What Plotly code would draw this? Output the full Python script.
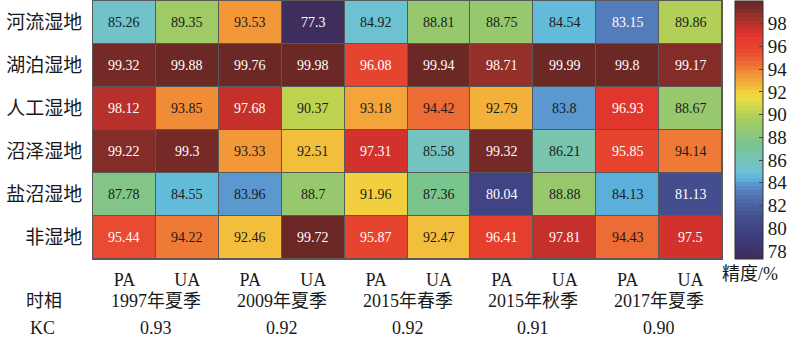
import numpy as np
import plotly.graph_objects as go

# Land cover classes (rows) and accuracy columns (PA / UA per period)
classes = ["河流湿地", "湖泊湿地", "人工湿地", "沼泽湿地", "盐沼湿地", "非湿地"]
metrics = ["PA", "UA", "PA", "UA", "PA", "UA", "PA", "UA", "PA", "UA"]
periods = ["1997年夏季", "2009年夏季", "2015年春季", "2015年秋季", "2017年夏季"]
kappa = ["0.93", "0.92", "0.92", "0.91", "0.90"]

acc_river = [85.26, 89.35, 93.53, 77.3, 84.92, 88.81, 88.75, 84.54, 83.15, 89.86]
acc_lake = [99.32, 99.88, 99.76, 99.98, 96.08, 99.94, 98.71, 99.99, 99.8, 99.17]
acc_artificial = [98.12, 93.85, 97.68, 90.37, 93.18, 94.42, 92.79, 83.8, 96.93, 88.67]
acc_marsh = [99.22, 99.3, 93.33, 92.51, 97.31, 85.58, 99.32, 86.21, 95.85, 94.14]
acc_saltmarsh = [87.78, 84.55, 83.96, 88.7, 91.96, 87.36, 80.04, 88.88, 84.13, 81.13]
acc_nonwetland = [95.44, 94.22, 92.46, 99.72, 95.87, 92.47, 96.41, 97.81, 94.43, 97.5]

z = [acc_river, acc_lake, acc_artificial, acc_marsh, acc_saltmarsh, acc_nonwetland]

zmin, zmax = 77.3, 99.99

# Anchor colours along the accuracy range
anchors = [
    (77.3, "#3d2d5a"), (79.5, "#3f3f80"), (81.0, "#444e8e"), (82.5, "#4f6aaa"),
    (83.3, "#5580bf"), (83.9, "#5a9ad0"), (84.3, "#5ab6dd"), (84.9, "#6cc2d2"),
    (85.4, "#72c2c6"), (86.3, "#78c4ad"), (87.4, "#7ac48e"), (88.8, "#98c86e"),
    (89.4, "#a2cc62"), (90.3, "#c0d44e"), (91.3, "#e8dc42"), (92.0, "#f2d03e"),
    (92.5, "#f3b73a"), (93.2, "#f3a03a"), (93.8, "#f08a38"), (94.4, "#ed6e35"),
    (95.4, "#e84c33"), (96.3, "#e63e2e"), (97.0, "#e0362e"), (97.5, "#cc302b"),
    (98.1, "#b6302b"), (98.7, "#96302a"), (99.2, "#7e2b28"), (99.99, "#672724"),
]


def hex2rgb(h):
    h = h.lstrip("#")
    return np.array([int(h[i:i + 2], 16) for i in (0, 2, 4)], dtype=float)


pos = np.array([(v - zmin) / (zmax - zmin) for v, _ in anchors])
rgb = np.array([hex2rgb(c) for _, c in anchors])

# Banded colour scale (stepped bands like an indexed colormap)
n_bands = 64
colorscale = []
for k in range(n_bands):
    mid = (k + 0.5) / n_bands
    c = [np.interp(mid, pos, rgb[:, j]) for j in range(3)]
    col = "rgb({:.0f},{:.0f},{:.0f})".format(*c)
    colorscale.append([k / n_bands, col])
    colorscale.append([(k + 1) / n_bands, col])

font_family = "Liberation Serif, Times New Roman, Noto Sans CJK SC, serif"
ink = "#1a1a1a"

fig = go.Figure(
    go.Heatmap(
        z=z,
        x=list(range(len(metrics))),
        y=classes,
        zmin=zmin,
        zmax=zmax,
        colorscale=colorscale,
        xgap=1,
        ygap=1,
        hoverinfo="skip",
        colorbar=dict(
            x=1.0207,
            xanchor="left",
            xpad=0,
            y=0.5,
            yanchor="middle",
            ypad=0,
            len=1.0,
            lenmode="fraction",
            thickness=28,
            thicknessmode="pixels",
            outlinewidth=1,
            outlinecolor="#333333",
            tickmode="array",
            tickvals=list(range(78, 100, 2)),
            ticks="inside",
            ticklen=4,
            tickcolor="#444444",
            tickfont=dict(family=font_family, size=19, color=ink),
        ),
    )
)

# Values written in each cell, light text on dark cells
for i, row in enumerate(z):
    for j, v in enumerate(row):
        light = v >= 94.9 or v <= 83.5
        fig.add_annotation(
            x=j, y=classes[i], xref="x", yref="y",
            text=f"{v:g}", showarrow=False,
            font=dict(family=font_family, size=14,
                      color="#ffffff" if light else ink),
        )

plot_h = 258.0
plot_w = 629.0


def py(ypx):
    return -(ypx - 259.0) / plot_h


def px(xpx):
    return (xpx - 93.0) / plot_w


label_font = dict(family=font_family, size=18, color=ink)

fig.add_annotation(x=px(44), y=py(301), xref="paper", yref="paper",
                   text="时相", showarrow=False, font=label_font,
                   xanchor="center", yanchor="middle")
fig.add_annotation(x=px(42), y=py(328), xref="paper", yref="paper",
                   text="KC", showarrow=False, font=label_font,
                   xanchor="center", yanchor="middle")
for k, (p, kc) in enumerate(zip(periods, kappa)):
    fig.add_annotation(x=2 * k + 0.5, y=py(301), xref="x", yref="paper",
                       text=p, showarrow=False, font=label_font,
                       xanchor="center", yanchor="middle")
    fig.add_annotation(x=2 * k + 0.5, y=py(328), xref="x", yref="paper",
                       text=kc, showarrow=False, font=label_font,
                       xanchor="center", yanchor="middle")

fig.add_annotation(x=px(750), y=py(274), xref="paper", yref="paper",
                   text="精度/%", showarrow=False, font=label_font,
                   xanchor="center", yanchor="middle")

fig.update_xaxes(
    tickmode="array",
    tickvals=list(range(len(metrics))),
    ticktext=metrics,
    ticks="",
    ticklabelstandoff=4,
    tickfont=dict(family=font_family, size=18, color=ink),
    showline=True, linecolor="#595959", linewidth=1, mirror=True,
    showgrid=False, zeroline=False,
    range=[-0.5, 9.5],
)
fig.update_yaxes(
    autorange="reversed",
    ticks="",
    ticklabelstandoff=6,
    tickfont=dict(family=font_family, size=19, color=ink),
    showline=True, linecolor="#595959", linewidth=1, mirror=True,
    showgrid=False, zeroline=False,
)

fig.update_layout(
    width=800,
    height=345,
    margin=dict(l=93, r=78, t=1, b=86),
    plot_bgcolor="#595959",
    paper_bgcolor="#ffffff",
    font=dict(family=font_family, color=ink),
    showlegend=False,
)

fig.write_html("out.html")
